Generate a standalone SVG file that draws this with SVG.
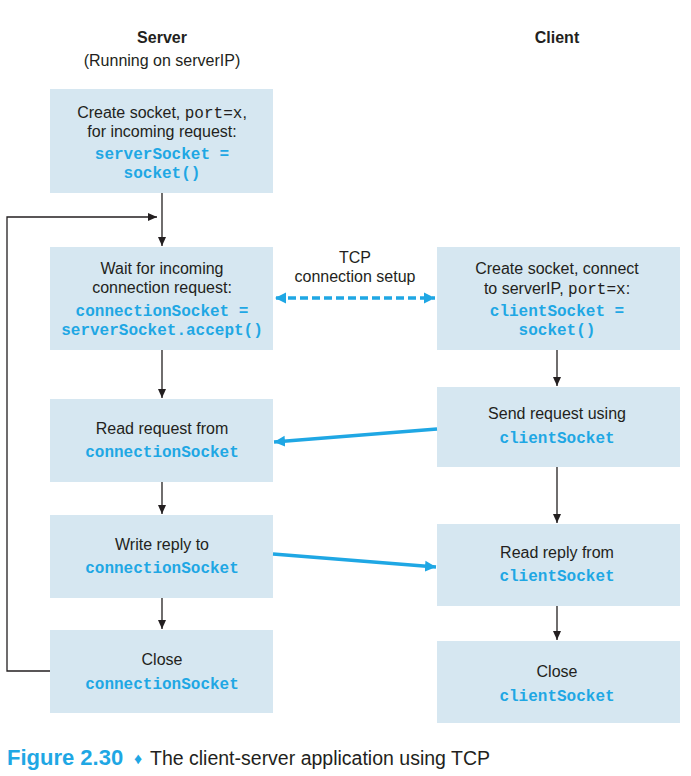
<svg xmlns="http://www.w3.org/2000/svg" width="691" height="776" viewBox="0 0 691 776">
<style>
.box{fill:#D6E7F1}
.t{font-family:"Liberation Sans",Arial,sans-serif;font-size:16px;fill:#231F20;text-anchor:middle}
.h{font-family:"Liberation Sans",Arial,sans-serif;font-size:16px;font-weight:bold;fill:#231F20;text-anchor:middle}
.c{font-family:"Liberation Mono","DejaVu Sans Mono",monospace;font-size:16px;font-weight:bold;fill:#1FA7E4;text-anchor:middle}
.m{font-family:"Liberation Mono","DejaVu Sans Mono",monospace;font-size:16px;fill:#231F20}
.blk{stroke:#231F20;stroke-width:1.3;fill:none}
.blu{stroke:#1FA7E4;stroke-width:3.5;fill:none}
.cap{font-family:"Liberation Sans",Arial,sans-serif}
</style>
<defs>
<marker id="ak" markerWidth="10" markerHeight="10" refX="9" refY="5" orient="auto" markerUnits="userSpaceOnUse">
<path d="M0,1 L9,5 L0,9 Z" fill="#231F20"/>
</marker>
<marker id="ab" markerWidth="12" markerHeight="12" refX="11" refY="6" orient="auto" markerUnits="userSpaceOnUse">
<path d="M0,0.5 L11,6 L0,11.5 Z" fill="#1FA7E4"/>
</marker>
<marker id="abs" markerWidth="12" markerHeight="12" refX="1" refY="6" orient="auto" markerUnits="userSpaceOnUse">
<path d="M11,0.5 L0,6 L11,11.5 Z" fill="#1FA7E4"/>
</marker>
</defs>

<g id="headers">
<text class="h" x="162" y="43">Server</text>
<text class="t" x="162" y="66">(Running on serverIP)</text>
<text class="h" x="557" y="43">Client</text>
</g>

<g id="s1">
<rect class="box" x="50" y="89" width="223" height="104"/>
<text class="t" x="162" y="118">Create  socket, <tspan class="m">port=x</tspan>,</text>
<text class="t" x="162" y="137">for incoming request:</text>
<text class="c" x="162" y="159">serverSocket =</text>
<text class="c" x="162" y="178">socket()</text>
</g>

<g id="s2">
<rect class="box" x="50" y="247" width="223" height="103"/>
<text class="t" x="162" y="274">Wait for incoming</text>
<text class="t" x="162" y="293">connection request:</text>
<text class="c" x="162" y="316">connectionSocket =</text>
<text class="c" x="162" y="335">serverSocket.accept()</text>
</g>

<g id="s3">
<rect class="box" x="50" y="399" width="223" height="83"/>
<text class="t" x="162" y="434">Read request from</text>
<text class="c" x="162" y="457">connectionSocket</text>
</g>

<g id="s4">
<rect class="box" x="50" y="515" width="223" height="83"/>
<text class="t" x="162" y="550">Write reply to</text>
<text class="c" x="162" y="573">connectionSocket</text>
</g>

<g id="s5">
<rect class="box" x="50" y="630" width="223" height="83"/>
<text class="t" x="162" y="665">Close</text>
<text class="c" x="162" y="689">connectionSocket</text>
</g>

<g id="c1">
<rect class="box" x="437" y="247" width="243" height="103"/>
<text class="t" x="557" y="274">Create socket, connect</text>
<text class="t" x="557" y="294">to serverIP, <tspan class="m">port=x</tspan>:</text>
<text class="c" x="557" y="316">clientSocket =</text>
<text class="c" x="557" y="335">socket()</text>
</g>

<g id="c2">
<rect class="box" x="437" y="387" width="243" height="80"/>
<text class="t" x="557" y="419">Send request using</text>
<text class="c" x="557" y="443">clientSocket</text>
</g>

<g id="c3">
<rect class="box" x="437" y="524" width="243" height="82"/>
<text class="t" x="557" y="558">Read reply from</text>
<text class="c" x="557" y="581">clientSocket</text>
</g>

<g id="c4">
<rect class="box" x="437" y="641" width="243" height="82"/>
<text class="t" x="557" y="677">Close</text>
<text class="c" x="557" y="701">clientSocket</text>
</g>

<g id="tcp-label">
<text class="t" x="355" y="263">TCP</text>
<text class="t" x="355" y="282">connection setup</text>
</g>

<g id="connectors">
<line class="blk" x1="162" y1="193" x2="162" y2="246" marker-end="url(#ak)"/>
<line class="blk" x1="162" y1="350" x2="162" y2="398" marker-end="url(#ak)"/>
<line class="blk" x1="162" y1="482" x2="162" y2="514" marker-end="url(#ak)"/>
<line class="blk" x1="162" y1="598" x2="162" y2="629" marker-end="url(#ak)"/>
<polyline class="blk" points="50,671 7,671 7,217 157,217" marker-end="url(#ak)"/>
<line class="blk" x1="557" y1="350" x2="557" y2="386" marker-end="url(#ak)"/>
<line class="blk" x1="557" y1="467" x2="557" y2="523" marker-end="url(#ak)"/>
<line class="blk" x1="557" y1="606" x2="557" y2="640" marker-end="url(#ak)"/>
<line class="blu" x1="276" y1="298" x2="435" y2="298" stroke-dasharray="8,4" stroke-width="3" marker-start="url(#abs)" marker-end="url(#ab)"/>
<line class="blu" x1="437" y1="429" x2="274" y2="442" marker-end="url(#ab)"/>
<line class="blu" x1="273" y1="554" x2="436" y2="567" marker-end="url(#ab)"/>
</g>

<g id="caption">
<text class="cap" x="7" y="765" font-size="22" font-weight="bold" fill="#1FA7E4">Figure 2.30</text>
<text class="cap" x="134" y="764" font-size="16" fill="#1FA7E4">♦</text>
<text class="cap" x="150" y="765" font-size="19.5" fill="#231F20">The client-server application using TCP</text>
</g>
</svg>
